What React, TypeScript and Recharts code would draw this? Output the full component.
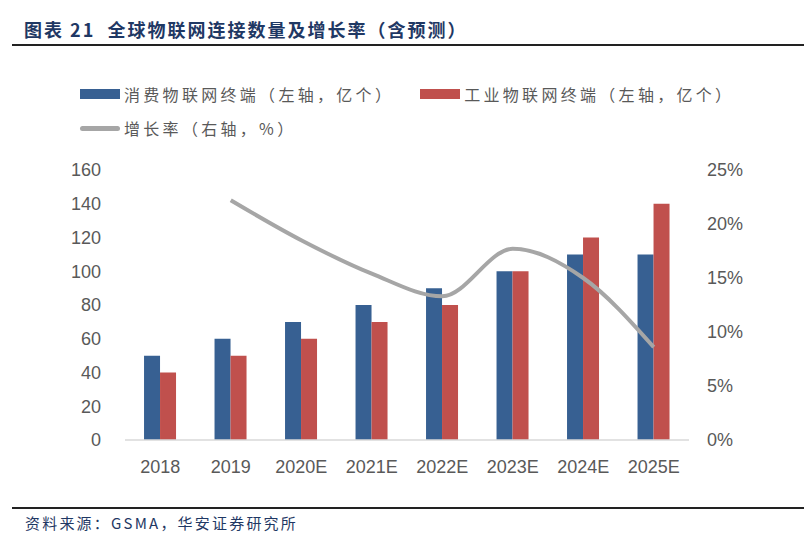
import { Bar, ComposedChart, Line, XAxis, YAxis } from "recharts";

const YEARS = ["2018", "2019", "2020E", "2021E", "2022E", "2023E", "2024E", "2025E"];
const CONSUMER = [50, 60, 70, 80, 90, 100, 110, 110];
const INDUSTRIAL = [40, 50, 60, 70, 80, 100, 120, 140];
const GROWTH = [null, 22.2, 18.5, 15.4, 13.3, 17.7, 15.0, 8.6];
const LEFT_TICKS = [0, 20, 40, 60, 80, 100, 120, 140, 160];
const RIGHT_TICKS = [0, 5, 10, 15, 20, 25];

const BLUE = "#376092";
const RED = "#C0504D";
const GRAY = "#A6A6A6";
const TICK = { fill: "#595959", fontSize: 18, fontFamily: "Liberation Sans, Arial, sans-serif" };
const CJK = "'Noto Sans CJK SC', sans-serif";

const data = YEARS.map((year, i) => ({
  year,
  consumer: CONSUMER[i],
  industrial: INDUSTRIAL[i],
  growth: GROWTH[i],
}));

function LegendItem({ color, line, label }: { color: string; line?: boolean; label: string }) {
  return (
    <span style={{ display: "flex", alignItems: "center", gap: 4 }}>
      <span
        style={{
          display: "inline-block",
          width: 40,
          height: line ? 5 : 10,
          borderRadius: line ? 3 : 0,
          background: color,
        }}
      />
      <span style={{ letterSpacing: 3.3 }}>{label}</span>
    </span>
  );
}

export default function App() {
  return (
    <div style={{ position: "absolute", left: 0, top: 0, width: 808, height: 552, background: "#fff", fontFamily: CJK }}>
      <div
        style={{
          position: "absolute",
          left: 24,
          top: 16,
          fontSize: 18,
          fontWeight: 700,
          letterSpacing: 2,
          color: "#1F3864",
          whiteSpace: "pre",
        }}
      >
        图表 21  全球物联网连接数量及增长率（含预测）
      </div>
      <div style={{ position: "absolute", left: 12, right: 4, top: 44, height: 1.5, background: "#222" }} />

      <div style={{ position: "absolute", left: 80, top: 82, fontSize: 16, color: "#595959", display: "flex", gap: 26 }}>
        <LegendItem color={BLUE} label="消费物联网终端（左轴，亿个）" />
        <LegendItem color={RED} label="工业物联网终端（左轴，亿个）" />
      </div>
      <div style={{ position: "absolute", left: 80, top: 116, fontSize: 16, color: "#595959" }}>
        <LegendItem color={GRAY} line label="增长率（右轴，%）" />
      </div>

      <ComposedChart
        width={808}
        height={552}
        data={data}
        margin={{ top: 170, right: 59, bottom: 82, left: 65 }}
        barCategoryGap="27%"
        barGap={0}
      >
        <XAxis
          dataKey="year"
          tick={TICK}
          tickLine={false}
          axisLine={{ stroke: "#D9D9D9", strokeWidth: 1.5 }}
          tickMargin={14}
          height={30}
        />
        <YAxis
          yAxisId="left"
          domain={[0, 160]}
          ticks={LEFT_TICKS}
          tick={TICK}
          axisLine={false}
          tickLine={false}
          tickSize={0}
          tickMargin={24}
          width={60}
          interval={0}
        />
        <YAxis
          yAxisId="right"
          orientation="right"
          domain={[0, 25]}
          ticks={RIGHT_TICKS}
          tickFormatter={(v: number) => `${v}%`}
          tick={{ ...TICK, textAnchor: "start" }}
          axisLine={false}
          tickLine={false}
          tickSize={0}
          tickMargin={18}
          width={60}
          interval={0}
        />
        <Bar yAxisId="left" dataKey="consumer" fill={BLUE} isAnimationActive={false} />
        <Bar yAxisId="left" dataKey="industrial" fill={RED} isAnimationActive={false} />
        <Line
          yAxisId="right"
          type="monotone"
          dataKey="growth"
          stroke={GRAY}
          strokeWidth={4}
          dot={false}
          connectNulls={false}
          isAnimationActive={false}
        />
      </ComposedChart>

      <div style={{ position: "absolute", left: 12, right: 4, top: 507, height: 1.5, background: "#222" }} />
      <div style={{ position: "absolute", left: 25, top: 512, fontSize: 15, letterSpacing: 2.2, color: "#1F3864" }}>
        资料来源：GSMA，华安证券研究所
      </div>
    </div>
  );
}
